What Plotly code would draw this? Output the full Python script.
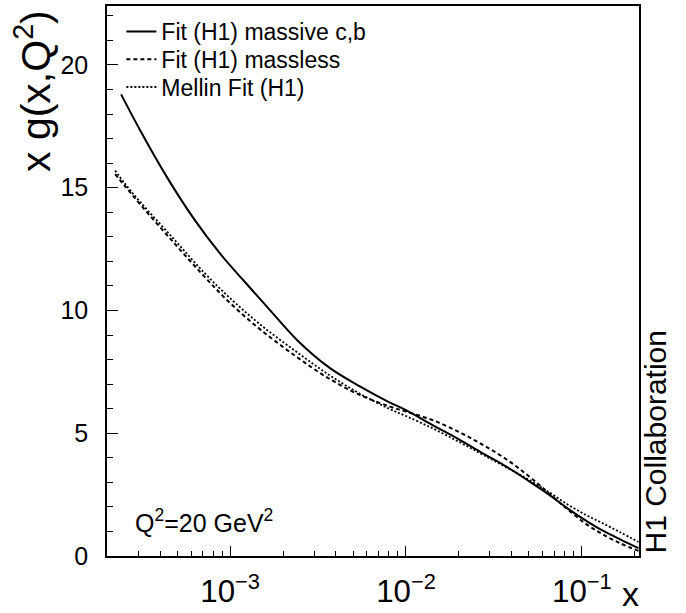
import plotly.graph_objects as go

# ---- data ----
x_massive = [2.4e-4, 3.1e-4, 4.4e-4, 6.2e-4, 8.8e-4, 1.2e-3, 1.6e-3, 2.4e-3, 3.7e-3, 5.5e-3,
             8.0e-3, 1.0e-2, 1.4e-2, 2.0e-2, 2.7e-2, 3.7e-2, 5.0e-2, 6.5e-2, 8.3e-2, 1.05e-1,
             1.3e-1, 1.65e-1, 2.1e-1]
y_massive = [18.8, 17.3, 15.4, 13.75, 12.3, 11.2, 10.2, 8.8, 7.65, 6.9,
             6.27, 5.94, 5.35, 4.75, 4.2, 3.65, 3.05, 2.5, 1.94, 1.45,
             1.05, 0.68, 0.32]

x_massless = [2.22e-4, 2.5e-4, 3.1e-4, 4.8e-4, 7.1e-4, 1.0e-3, 1.5e-3, 2.4e-3, 3.7e-3, 5.5e-3,
              8.0e-3, 1.0e-2, 1.4e-2, 2.0e-2, 2.7e-2, 3.7e-2, 5.0e-2, 6.5e-2, 8.3e-2, 1.05e-1,
              1.3e-1, 1.65e-1, 2.1e-1]
y_massless = [15.55, 15.1, 14.3, 12.75, 11.4, 10.3, 9.2, 8.1, 7.2, 6.55,
              6.1, 5.88, 5.55, 5.05, 4.55, 3.95, 3.25, 2.55, 1.9, 1.32,
              0.9, 0.52, 0.21]

x_mellin = [2.22e-4, 2.5e-4, 3.1e-4, 4.8e-4, 7.1e-4, 1.0e-3, 1.5e-3, 2.4e-3, 3.7e-3, 5.5e-3,
            8.0e-3, 1.0e-2, 1.4e-2, 2.0e-2, 2.7e-2, 3.7e-2, 5.0e-2, 6.5e-2, 8.3e-2, 1.05e-1,
            1.3e-1, 1.65e-1, 2.1e-1]
y_mellin = [15.7, 15.2, 14.4, 12.9, 11.55, 10.5, 9.4, 8.3, 7.35, 6.6,
            6.0, 5.7, 5.22, 4.65, 4.15, 3.62, 3.1, 2.6, 2.1, 1.68,
            1.35, 0.97, 0.57]

series_names = ["Fit (H1) massive c,b", "Fit (H1) massless", "Mellin Fit (H1)"]
x_range_log = [-3.70, -0.675]
y_range = [0, 22.4]

FONT = "Liberation Sans, Arial, sans-serif"

fig = go.Figure()
fig.add_trace(go.Scatter(x=x_massive, y=y_massive, mode="lines", name=series_names[0],
                         legend="legend",
                         line=dict(color="black", width=2, shape="spline", smoothing=1.0)))
fig.add_trace(go.Scatter(x=x_massless, y=y_massless, mode="lines", name=series_names[1],
                         legend="legend2",
                         line=dict(color="black", width=2, dash="4px,3px", shape="spline", smoothing=1.0)))
fig.add_trace(go.Scatter(x=x_mellin, y=y_mellin, mode="lines", name=series_names[2],
                         legend="legend3",
                         line=dict(color="black", width=1.8, dash="2px,2px", shape="spline", smoothing=1.0)))

legend_font = dict(family=FONT, size=23, color="black")
legend_x = 0.027


def legend_box(row_center_px):
    top_px = row_center_px - 24
    return dict(x=legend_x, y=(558 - top_px) / 554, xanchor="left", yanchor="top",
                bgcolor="rgba(0,0,0,0)", borderwidth=0, font=legend_font)


fig.update_layout(
    width=686, height=613,
    margin=dict(l=107, r=47, t=4, b=55),
    paper_bgcolor="white", plot_bgcolor="white",
    font=dict(family=FONT, color="black", size=24),
    showlegend=True,
    legend=legend_box(32),
    legend2=legend_box(60),
    legend3=legend_box(88),
)

fig.update_xaxes(
    type="log", range=x_range_log,
    showgrid=False, zeroline=False,
    showline=True, linecolor="black", linewidth=1.5, mirror=True,
    ticks="inside", ticklen=10, tickwidth=1.2, tickcolor="black",
    dtick=1, exponentformat="power", showexponent="all",
    tickfont=dict(family=FONT, size=25),
    ticklabelstandoff=8,
    minor=dict(ticks="inside", ticklen=5, tickwidth=1.2, tickcolor="black", dtick="D1", showgrid=False),
)
fig.update_yaxes(
    range=y_range,
    showgrid=False, zeroline=False,
    showline=True, linecolor="black", linewidth=1.5, mirror=True,
    ticks="inside", ticklen=11, tickwidth=1.2, tickcolor="black",
    dtick=5, tick0=0,
    tickfont=dict(family=FONT, size=25),
    ticklabelstandoff=12,
    minor=dict(ticks="inside", ticklen=6, tickwidth=1.2, tickcolor="black", dtick=1, showgrid=False),
)

fig.add_annotation(text="x g(x,Q<sup>2</sup>)", xref="paper", yref="paper",
                   x=(33 - 107) / 532, y=(558 - 6) / 554, xanchor="center", yanchor="top",
                   textangle=-90, showarrow=False, font=dict(family=FONT, size=41))
fig.add_annotation(text="x", xref="paper", yref="paper",
                   x=(630 - 107) / 532, y=(558 - 617) / 554, xanchor="center", yanchor="bottom",
                   showarrow=False, font=dict(family=FONT, size=34))
fig.add_annotation(text="Q<sup>2</sup>=20 GeV<sup>2</sup>", xref="paper", yref="paper",
                   x=(133 - 107) / 532, y=(558 - 523) / 554, xanchor="left", yanchor="middle",
                   showarrow=False, font=dict(family=FONT, size=25))
fig.add_annotation(text="H1 Collaboration", xref="paper", yref="paper",
                   x=(655 - 107) / 532, y=0, xanchor="center", yanchor="bottom",
                   textangle=-90, showarrow=False, font=dict(family=FONT, size=30))

fig.write_html("out.html")
